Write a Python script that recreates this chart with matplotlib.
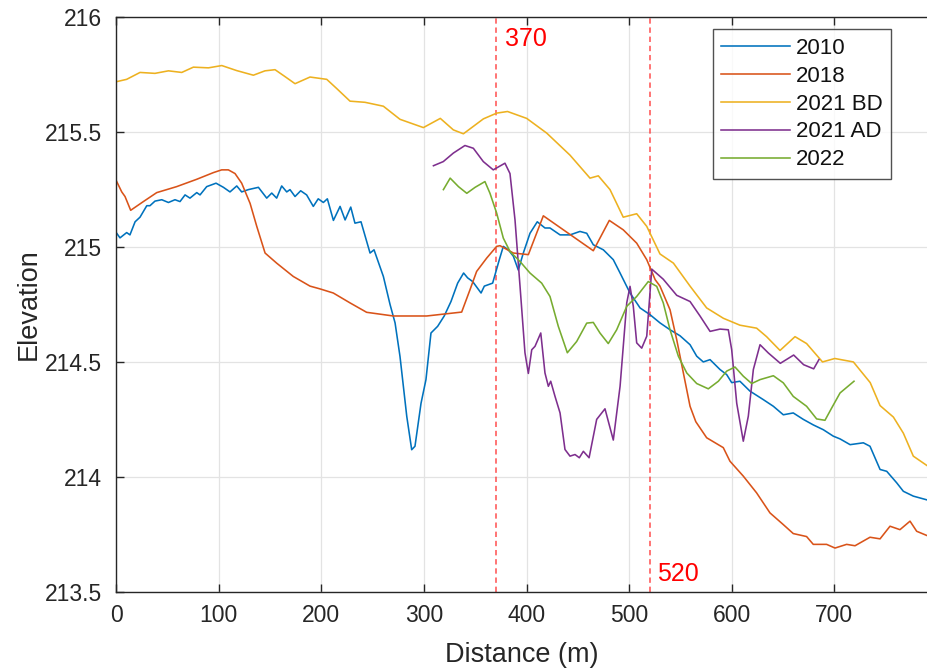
import matplotlib
matplotlib.use("Agg")
import matplotlib.pyplot as plt

plt.rcParams['font.family'] = ['Liberation Sans', 'DejaVu Sans']

# ---- profile data: distance (m) and elevation ----
x_2010 = [0.6, 3.8, 10.3, 13.5, 18.5, 23.3, 29.9, 33, 37.9, 44.5, 51, 57.4, 62.3, 67.2, 72,
          78.6, 81.8, 88.3, 97.4, 104.6, 111, 117.6, 122.4, 128.9, 138.7, 146.8, 151.7, 156.5,
          161.4, 166.3, 169.5, 174.4, 179.9, 185.7, 192.2, 197, 202, 205.9, 211.8, 218.3,
          223.2, 228.7, 232.8, 238.7, 247.5, 251.4, 260.5, 267, 271.9, 276.7, 283.3, 288.1,
          291.3, 297.2, 302, 306.9, 313.4, 319.8, 326.4, 332.9, 338.7, 342.6, 347.5, 355.7,
          358.9, 367, 373.5, 377.4, 382.3, 387.2, 392, 396.9, 403.4, 410.5, 418, 422.9,
          432.7, 442.4, 452.1, 458.7, 465.1, 474.9, 484.6, 491.2, 500.9, 510.7, 520.3, 530.1,
          539.9, 549.6, 559.4, 565.9, 572.3, 578.9, 588.6, 595.1, 600, 608, 617.8, 630.8,
          640.6, 650.3, 660, 669.8, 679.5, 689.3, 699, 705.6, 715.4, 728.3, 734.8, 744.6,
          751.1, 760.8, 767.3, 777, 790]
y_2010 = [215.06, 215.04, 215.063, 215.053, 215.11, 215.13, 215.18, 215.18, 215.20, 215.206,
          215.194, 215.206, 215.198, 215.227, 215.213, 215.237, 215.227, 215.263, 215.278,
          215.26, 215.24, 215.266, 215.24, 215.25, 215.26, 215.213, 215.235, 215.213, 215.266,
          215.24, 215.25, 215.22, 215.245, 215.227, 215.177, 215.21, 215.194, 215.21, 215.116,
          215.177, 215.118, 215.174, 215.104, 215.11, 214.974, 214.988, 214.872, 214.75,
          214.67, 214.524, 214.263, 214.118, 214.133, 214.32, 214.423, 214.626, 214.655,
          214.70, 214.763, 214.843, 214.887, 214.866, 214.85, 214.80, 214.83, 214.843,
          214.945, 215.003, 214.988, 214.96, 214.90, 214.974, 215.06, 215.11, 215.083,
          215.083, 215.053, 215.053, 215.068, 215.06, 215.01, 214.988, 214.945, 214.887,
          214.80, 214.735, 214.706, 214.67, 214.64, 214.614, 214.575, 214.525, 214.50,
          214.51, 214.467, 214.445, 214.41, 214.416, 214.373, 214.336, 214.307, 214.27,
          214.278, 214.25, 214.226, 214.205, 214.177, 214.165, 214.14, 214.148, 214.133,
          214.032, 214.024, 213.974, 213.937, 213.916, 213.90]

x_2018 = [0.6, 5.5, 8.7, 14.2, 26.6, 39.6, 59, 78.6, 94.8, 102.9, 109.4, 115.9, 122.4, 130.6,
          137.1, 145.2, 156.5, 172.7, 189, 198.7, 211.7, 228, 244.2, 270.2, 302.7, 336.8,
          344.9, 351.4, 361.2, 370.9, 374.2, 387.2, 401.8, 416.4, 465.1, 480.7, 494.3, 507.4,
          517.2, 525.4, 530.1, 539.9, 546.4, 552.9, 559.4, 565, 575.6, 591.8, 598.3, 611.3,
          624.3, 637.3, 650.3, 660, 673, 679.5, 692.5, 700.7, 712, 720.2, 734.8, 744.6,
          754.3, 764, 773.8, 780.3, 790]
y_2018 = [215.285, 215.24, 215.22, 215.16, 215.198, 215.237, 215.263, 215.295, 215.324,
          215.336, 215.336, 215.32, 215.278, 215.19, 215.09, 214.974, 214.93, 214.872,
          214.83, 214.818, 214.80, 214.757, 214.716, 214.70, 214.70, 214.717, 214.814,
          214.894, 214.952, 215.003, 215.006, 214.974, 214.967, 215.136, 214.984, 215.116,
          215.075, 215.017, 214.945, 214.858, 214.83, 214.727, 214.597, 214.452, 214.307,
          214.24, 214.17, 214.127, 214.068, 214.003, 213.93, 213.843, 213.792, 213.753,
          213.74, 213.706, 213.706, 213.69, 213.706, 213.70, 213.737, 213.73, 213.785,
          213.77, 213.807, 213.763, 213.745]

x_2021bd = [0.6, 10.3, 23.3, 37.9, 51, 64, 75.3, 90, 103, 117.6, 133.8, 145.1, 154.9, 164.6,
            174.4, 189, 205.3, 215, 228, 242.6, 260.5, 276.7, 299.5, 316, 328.7, 338.5, 358,
            371, 381.5, 400.2, 419.7, 442.4, 461.9, 470, 481.4, 494.3, 507.4, 517.2, 530.1,
            543.2, 559.4, 575.6, 591.9, 608, 624.3, 634, 647.1, 661.7, 673, 688.5, 700.5,
            718.6, 735, 744.6, 757.6, 767.3, 777, 790]
y_2021bd = [215.72, 215.73, 215.76, 215.756, 215.767, 215.76, 215.783, 215.78, 215.79,
            215.768, 215.748, 215.767, 215.772, 215.742, 215.711, 215.74, 215.73, 215.69,
            215.635, 215.63, 215.613, 215.556, 215.52, 215.56, 215.51, 215.493, 215.558,
            215.583, 215.59, 215.56, 215.496, 215.40, 215.30, 215.31, 215.25, 215.13,
            215.145, 215.09, 214.97, 214.93, 214.83, 214.735, 214.69, 214.66, 214.647,
            214.61, 214.55, 214.61, 214.58, 214.50, 214.515, 214.50, 214.41, 214.31, 214.26,
            214.19, 214.09, 214.05]

x_2021ad = [309.3, 318.9, 328.7, 340, 348.2, 357.9, 367.6, 379, 383.9, 388.8, 393.7, 398.5,
            401.8, 405.1, 408.3, 413.9, 418, 421.3, 423.6, 427.8, 432.7, 437.5, 442.4, 447.3,
            451.5, 455.4, 461, 468.4, 476.5, 484.6, 491.2, 497.7, 500.9, 504.1, 507.4, 512.3,
            517.2, 522.1, 533.3, 546.4, 559.4, 569.1, 578.9, 588.6, 596.7, 600, 604.9, 611.3,
            616.2, 621.1, 627.6, 635.7, 647.4, 660.4, 670.1, 679.9, 685]
y_2021ad = [215.354, 215.372, 215.409, 215.442, 215.43, 215.372, 215.336, 215.365, 215.32,
            215.118, 214.829, 214.54, 214.45, 214.553, 214.568, 214.626, 214.452, 214.394,
            214.416, 214.35, 214.278, 214.119, 214.09, 214.097, 214.083, 214.111, 214.083,
            214.25, 214.296, 214.16, 214.394, 214.757, 214.829, 214.742, 214.583, 214.56,
            214.612, 214.904, 214.86, 214.79, 214.763, 214.70, 214.633, 214.643, 214.64,
            214.553, 214.32, 214.155, 214.264, 214.467, 214.575, 214.539, 214.494, 214.53,
            214.488, 214.47, 214.51]

x_2022 = [319, 325.6, 333.7, 341.8, 349.9, 359.5, 364.4, 370.9, 377.4, 383.9, 393.7, 403.4,
          414.8, 422.9, 431, 439.8, 448.9, 458.7, 465.1, 471.6, 479.7, 487.9, 497.7, 507.4,
          518.7, 526.9, 533.3, 539.9, 548, 556.2, 565.9, 577.2, 587, 595.1, 603.2, 611.3,
          619.5, 627.6, 640.6, 650.3, 660, 673, 682.8, 690.9, 697.5, 705.6, 719.2]
y_2022 = [215.25, 215.30, 215.263, 215.234, 215.26, 215.285, 215.234, 215.148, 215.039,
          214.981, 214.937, 214.887, 214.843, 214.785, 214.655, 214.54, 214.589, 214.669,
          214.672, 214.626, 214.58, 214.64, 214.742, 214.785, 214.85, 214.829, 214.757,
          214.64, 214.525, 214.452, 214.406, 214.383, 214.416, 214.46, 214.478, 214.438,
          214.406, 214.423, 214.44, 214.409, 214.35, 214.307, 214.252, 214.246, 214.30,
          214.365, 214.416]

series_labels = ['2010', '2018', '2021 BD', '2021 AD', '2022']
series_colors = ['#0072BD', '#D95319', '#EDB120', '#7E2F8E', '#77AC30']

marker_x = [370, 520]
marker_labels = ['370', '520']

x_ticks = [0, 100, 200, 300, 400, 500, 600, 700]
y_ticks = [213.5, 214, 214.5, 215, 215.5, 216]
y_tick_labels = ['213.5', '214', '214.5', '215', '215.5', '216']

# ---- figure ----
W, H = 928, 671
fig = plt.figure(figsize=(W / 100, H / 100), dpi=100)
left_px, right_px, top_px, bottom_px = 116.1, 928.0, 17.3, 591.7
ax = fig.add_axes([left_px / W, 1 - bottom_px / H,
                   (right_px - left_px) / W, (bottom_px - top_px) / H])

xs = [x_2010, x_2018, x_2021bd, x_2021ad, x_2022]
ys = [y_2010, y_2018, y_2021bd, y_2021ad, y_2022]
for xv, yv, lab, col in zip(xs, ys, series_labels, series_colors):
    ax.plot(xv, yv, color=col, lw=1.15, label=lab, solid_joinstyle='round')

for xm in marker_x:
    ax.axvline(xm, color='#ff3030', lw=1.1, ls=(0, (3.5, 2.5)), alpha=0.85, zorder=1)
ax.text(379, 215.905, marker_labels[0], color='red', fontsize=18, ha='left', va='center')
ax.text(527, 213.575, marker_labels[1], color='red', fontsize=18, ha='left', va='center')

ax.set_xlim(0, (right_px - left_px) / 1.026)
ax.set_ylim(213.5, 216)
ax.set_xticks(x_ticks)
ax.set_yticks(y_ticks)
ax.set_yticklabels(y_tick_labels)
ax.grid(True, color='#e3e3e3', lw=0.9)
ax.set_axisbelow(True)

dark = '#262626'
ax.tick_params(axis='both', direction='in', length=6, width=1.0, colors=dark,
               labelsize=16.5, top=True, right=False)
ax.tick_params(axis='y', pad=10)
ax.tick_params(axis='x', pad=9)
for side in ['left', 'bottom', 'top']:
    ax.spines[side].set_color(dark)
    ax.spines[side].set_linewidth(1.0)
ax.spines['right'].set_visible(False)

ax.set_xlabel('Distance (m)', fontsize=19.5, color=dark, labelpad=11)
ax.set_ylabel('Elevation', fontsize=19.5, color=dark, labelpad=2)

leg = ax.legend(loc='upper left', bbox_to_anchor=(713 / W, 1 - 29.3 / H),
                bbox_transform=fig.transFigure, borderaxespad=0, fontsize=16,
                frameon=True, fancybox=False, handlelength=3.1, handletextpad=0.25,
                labelspacing=0.31, borderpad=0.38)
leg.get_frame().set_edgecolor(dark)
leg.get_frame().set_linewidth(1.0)
for t in leg.get_texts():
    t.set_color('#111111')

fig.savefig('out.png', dpi=100)
